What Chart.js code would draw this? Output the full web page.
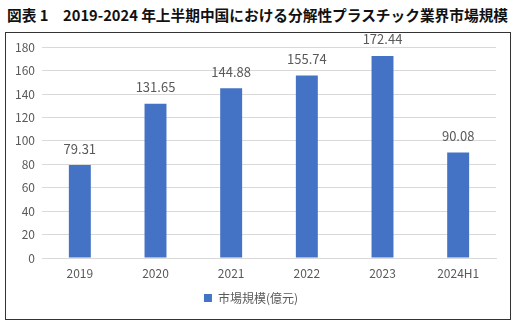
<!DOCTYPE html>
<html>
<head>
<meta charset="utf-8">
<script src="https://cdn.jsdelivr.net/npm/chart.js@4"></script>
<style>
  body { margin: 0; background: #fff; width: 518px; height: 328px; position: relative; overflow: hidden; }
  #titulo { position: absolute; left: 7px; top: 4px; font: bold 14px "Noto Sans CJK JP", sans-serif; color: #111; white-space: nowrap; }
  #caja { position: absolute; left: 5px; top: 32px; width: 504px; height: 286px; border: 1px solid #333; }
</style>
</head>
<body>
<div id="titulo">図表 1　2019-2024 年上半期中国における分解性プラスチック業界市場規模</div>
<div id="caja"><canvas id="myChart" width="504" height="286"></canvas></div>
<script>
const categorias = ['2019', '2020', '2021', '2022', '2023', '2024H1'];
const valores = [79.31, 131.65, 144.88, 155.74, 172.44, 90.08];
const nombreSerie = '市場規模(億元)';
const fuente = '"Noto Sans CJK JP", sans-serif';

const etiquetasValor = {
    id: 'etiquetasValor',
    afterDatasetsDraw(chart) {
        const ctx = chart.ctx;
        const meta = chart.getDatasetMeta(0);
        ctx.save();
        ctx.font = '13px ' + fuente;
        ctx.fillStyle = '#595959';
        ctx.textAlign = 'center';
        ctx.textBaseline = 'bottom';
        meta.data.forEach((bar, i) => {
            ctx.fillText(valores[i].toFixed(2), bar.x, bar.y - 10);
        });
        ctx.restore();
    }
};

// ajustar el título al ancho del recuadro
const titulo = document.getElementById('titulo');
titulo.style.fontSize = (14 * 502 / titulo.offsetWidth).toFixed(2) + 'px';

const ctx = document.getElementById('myChart').getContext('2d');
new Chart(ctx, {
    type: 'bar',
    data: {
        labels: categorias,
        datasets: [{
            label: nombreSerie,
            data: valores,
            backgroundColor: '#4472C4',
            barPercentage: 0.29,
            categoryPercentage: 1
        }]
    },
    options: {
        responsive: false,
        animation: false,
        layout: { padding: { top: 12, right: 14, bottom: 5, left: 0 } },
        plugins: {
            legend: {
                position: 'bottom',
                labels: {
                    font: { family: fuente, size: 12 },
                    color: '#595959',
                    boxWidth: 8,
                    boxHeight: 8,
                    padding: 10
                }
            },
            tooltip: { enabled: false }
        },
        scales: {
            x: {
                grid: { display: false, drawTicks: false },
                border: { color: '#d9d9d9' },
                ticks: { font: { family: fuente, size: 12 }, color: '#595959', padding: 8 },
                afterFit: (scale) => { scale.height = 24; }
            },
            y: {
                min: 0,
                max: 180,
                ticks: { stepSize: 20, font: { family: fuente, size: 12 }, color: '#595959', padding: 7 },
                grid: { color: '#d9d9d9', drawTicks: false },
                border: { display: false },
                afterFit: (scale) => { scale.width = 36; }
            }
        }
    },
    plugins: [etiquetasValor]
});
</script>
</body>
</html>
